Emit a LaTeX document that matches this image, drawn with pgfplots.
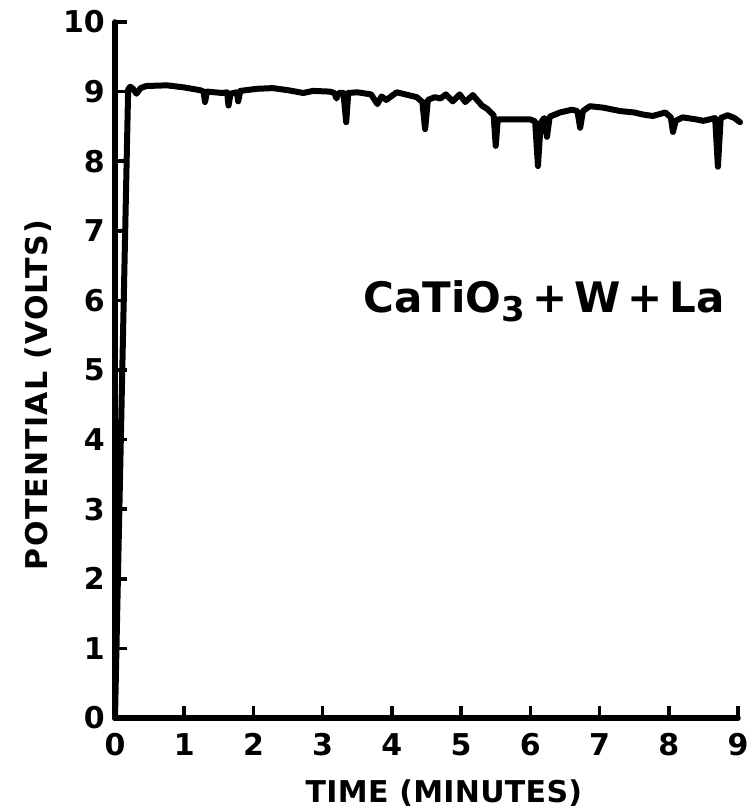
\documentclass[border=0pt]{standalone}
\usepackage{pgfplots}
\pgfplotsset{compat=1.18}
\usepackage{fontspec}
\setmainfont{DejaVu Sans}
\newfontfamily\xlabelfont[LetterSpace=1]{DejaVu Sans Bold}
\newfontfamily\ylabelfont[LetterSpace=4.5]{DejaVu Sans Bold}
\newfontfamily\boldfont{DejaVu Sans Bold}
\begin{document}
\begin{tikzpicture}
\begin{axis}[
  name=ax, at={(0,0)}, anchor=south west,
  scale only axis, width=623pt, height=696pt,
  xmin=0, xmax=9, ymin=0, ymax=10,
  clip=false,
  axis x line*=bottom, axis y line*=left,
  axis line style={-, line width=5.5pt, line cap=round},
  every outer x axis line/.append style={-},
  every outer y axis line/.append style={-},
  tick align=inside,
  major tick length=12pt,
  tick style={line width=3.5pt, black},
  xtick={0,1,...,9}, ytick={0,1,...,10},
  /pgf/number format/assume math mode=true,
  ticklabel style={font=\boldfont\fontsize{30}{36}\selectfont, inner sep=0pt},
  xticklabel style={yshift=-15pt},
  yticklabel style={xshift=-10pt},
  xlabel={\xlabelfont TIME (MINUTES)},
  xlabel style={font=\fontsize{30}{36}\selectfont, at={(axis description cs:0.528,0)}, anchor=base, yshift=-84pt, inner sep=0pt},
  ylabel={\ylabelfont POTENTIAL (VOLTS)},
  ylabel style={font=\fontsize{30}{36}\selectfont, at={(axis description cs:-0.109,0.464)}, anchor=base, inner sep=0pt},
]
\addplot[black, line width=6pt, line join=round, line cap=round] coordinates {
(0,0) (0.19,9.03) (0.22,9.07) (0.26,9.04) (0.31,8.97) (0.37,9.05) (0.45,9.08)
(0.75,9.09) (1.0,9.06) (1.23,9.02) (1.28,9.0) (1.30,8.85) (1.33,9.0) (1.55,8.98)
(1.62,8.99) (1.64,8.80) (1.67,8.97) (1.76,8.99) (1.78,8.86) (1.81,9.01) (2.05,9.04)
(2.28,9.05) (2.5,9.02) (2.72,8.98) (2.86,9.01) (3.1,9.0) (3.17,8.98) (3.2,8.90)
(3.23,8.98) (3.3,8.98) (3.34,8.56) (3.37,8.98) (3.5,8.99) (3.7,8.96) (3.79,8.82)
(3.85,8.93) (3.92,8.88) (4.07,8.99) (4.36,8.92) (4.44,8.85) (4.48,8.46) (4.52,8.88)
(4.62,8.92) (4.7,8.90) (4.78,8.96) (4.88,8.86) (4.98,8.96) (5.06,8.85) (5.17,8.95)
(5.3,8.80) (5.38,8.75) (5.47,8.66) (5.50,8.22) (5.53,8.60) (5.8,8.60) (6.0,8.60)
(6.07,8.57) (6.11,7.93) (6.15,8.55) (6.2,8.62) (6.24,8.35) (6.28,8.64) (6.43,8.70)
(6.6,8.74) (6.68,8.72) (6.72,8.48) (6.76,8.72) (6.86,8.79) (7.05,8.77) (7.3,8.72)
(7.5,8.70) (7.63,8.67) (7.77,8.65) (7.95,8.70) (8.03,8.63) (8.06,8.42) (8.10,8.58)
(8.2,8.63) (8.4,8.60) (8.5,8.58) (8.67,8.62) (8.71,7.92) (8.75,8.62) (8.85,8.66)
(8.95,8.62) (9.03,8.56)
};
\node[anchor=base, inner sep=0pt, font=\boldfont\fontsize{42}{48}\selectfont] at (axis cs:6.2,5.83)
  {CaTiO\raisebox{-0.22em}{\fontsize{34}{40}\selectfont 3}\,+\,W\,+\,La};
\end{axis}
\pgfresetboundingbox
\path (-115pt,-91pt) rectangle (637pt,718pt);
\end{tikzpicture}
\end{document}
